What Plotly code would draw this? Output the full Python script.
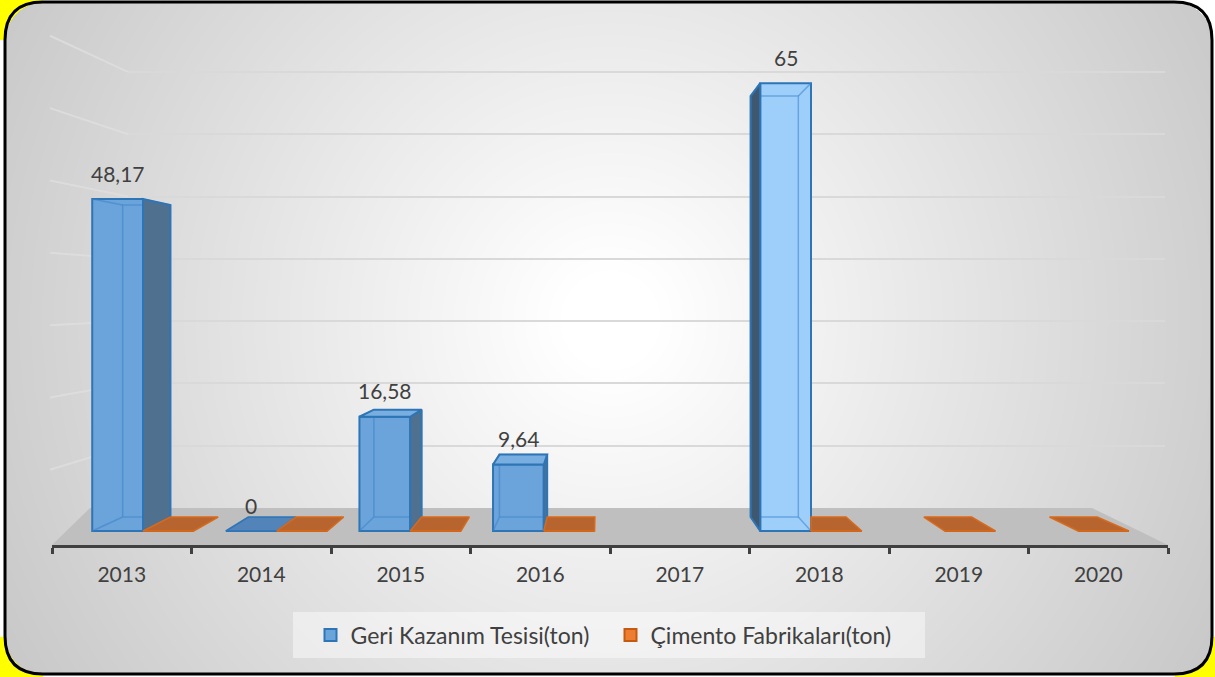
import base64, struct, zlib
import numpy as np
import plotly.graph_objects as go

# ---------------- data ----------------
years = ["2013", "2014", "2015", "2016", "2017", "2018", "2019", "2020"]
geri_kazanim = [48.17, 0, 16.58, 9.64, None, 65, None, None]
cimento = [0, 0, 0, 0, None, 0, 0, 0]
series_names = ["Geri Kazanım Tesisi(ton)", "Çimento Fabrikaları(ton)"]
grid_vals = [10, 20, 30, 40, 50, 60, 70]

# ---------------- styles / geometry ----------------
W, H = 1215, 677
FONT = "Lato"
TXT = "#404040"
BAR_W = 0.38           # bar width in category units
DEPTH = 0.94           # perspective scale of the bar back faces
VP = (3.42, 33.8)      # vanishing point in front-plane data units
BLUE_EDGE = "#2E75B6"
blue_front = ["#6BA3DB"] * 8
blue_front[5] = "#9DCFFA"
blue_side = ["#50708F"] * 8
blue_side[5] = "#3F5870"
blue_top = ["#79AEE0"] * 8
blue_flat = "#5283B9"
orange_flat = "#B8642F"
orange_edge = "#D86A1C"

# pixel layout of front plane
C0_PX, CAT_PX = 143.0, 133.6
BASE_PX, VAL_PX = 531.0, 6.89
# back wall
WALL_BASE_PX, WALL_VAL_PX = 508.0, 6.23
WALL_VP = (WALL_BASE_PX - 296.0) / WALL_VAL_PX


def px_x(p):
    return p / W


def px_y(p):
    return 1 - p / H


def proj(x, v, s=DEPTH):
    return (VP[0] + s * (x - VP[0]), VP[1] + s * (v - VP[1]))


def clip_left(poly, xc):
    """keep part of polygon with x >= xc"""
    out = []
    n = len(poly)
    for k in range(n):
        a, b = poly[k], poly[(k + 1) % n]
        ain, bin_ = a[0] >= xc, b[0] >= xc
        if ain:
            out.append(a)
        if ain != bin_:
            t = (xc - a[0]) / (b[0] - a[0])
            out.append((xc, a[1] + t * (b[1] - a[1])))
    return out


def png_data_uri(arr):
    h, w, _ = arr.shape
    a = arr.astype(np.int16)
    sub = a.copy()
    sub[:, 1:, :] = a[:, 1:, :] - a[:, :-1, :]
    sub = (sub % 256).astype(np.uint8).reshape(h, w * 3)
    raw = np.concatenate([np.ones((h, 1), np.uint8), sub], axis=1).tobytes()

    def chunk(t, data):
        c = struct.pack(">I", len(data)) + t + data
        return c + struct.pack(">I", zlib.crc32(t + data) & 0xFFFFFFFF)

    png = (b"\x89PNG\r\n\x1a\n"
           + chunk(b"IHDR", struct.pack(">IIBBBBB", w, h, 8, 2, 0, 0, 0))
           + chunk(b"IDAT", zlib.compress(raw, 9))
           + chunk(b"IEND", b""))
    return "data:image/png;base64," + base64.b64encode(png).decode()


# ---------------- background image ----------------
L, T, R, B, RAD = 5, 2, 1212, 674, 38
yy, xx = np.mgrid[0:H, 0:W].astype(float)
d = np.hypot(xx - 610, (yy - 320) * 1.0)
g = 255 - 0.085 * np.clip(d - 50, 0, None)
g = np.clip(g, 185, 255)
img = np.repeat(g[..., None], 3, axis=2)
cx = np.clip(xx, L + RAD, R - RAD)
cy = np.clip(yy, T + RAD, B - RAD)
inside = (np.hypot(xx - cx, yy - cy) <= RAD) & (xx >= L) & (xx <= R) & (yy >= T) & (yy <= B)
corner = (((xx < L + RAD) & (yy < T + RAD)) | ((xx < L + RAD) & (yy > B - RAD))
          | ((xx > R - RAD) & (yy > B - RAD)))
outside_col = np.where(corner[..., None], np.array([255, 255, 0]), np.array([255, 255, 255]))
img = np.where(inside[..., None], img, outside_col).astype(np.uint8)
bg_uri = png_data_uri(img)

fig = go.Figure()

# subplot order: xy = back wall grid, x2y2 = category axis, x3y3 = bars (front plane)
BX, BY = "x3", "y3"

# dummy traces to build the back wall grid and the category axis
fig.add_trace(go.Scatter(x=[0.5], y=[5], mode="markers", marker=dict(opacity=0),
                         hoverinfo="skip", showlegend=False, xaxis="x", yaxis="y"))
fig.add_trace(go.Scatter(x=years, y=[0.5] * len(years), mode="markers",
                         marker=dict(opacity=0), hoverinfo="skip", showlegend=False,
                         xaxis="x2", yaxis="y2"))

# ---------------- bars (front faces) ----------------
cats = list(range(len(years)))
fig.add_trace(go.Bar(
    x=cats, y=geri_kazanim, width=BAR_W, offset=-BAR_W, name=series_names[0],
    marker=dict(color=blue_front, line=dict(color=BLUE_EDGE, width=2)),
    hoverinfo="skip", xaxis=BX, yaxis=BY))
fig.add_trace(go.Bar(
    x=cats, y=cimento, width=BAR_W, offset=0, name=series_names[1],
    marker=dict(color="#ED7D31", line=dict(color="#C55A11", width=2)),
    hoverinfo="skip", xaxis=BX, yaxis=BY))


def poly_trace(poly, fill, line_col, lw=1.5):
    xs = [p[0] for p in poly] + [poly[0][0]]
    ys = [p[1] for p in poly] + [poly[0][1]]
    return go.Scatter(x=xs, y=ys, mode="lines", fill="toself", fillcolor=fill,
                      line=dict(color=line_col, width=lw), hoverinfo="skip",
                      showlegend=False, xaxis=BX, yaxis=BY)


# inner (back) edges seen through the translucent blue bars
for i, v in zip(cats, geri_kazanim):
    if v is None or v == 0:
        continue
    x0, x1 = i - BAR_W, i
    b = [proj(x0, 0), proj(x1, 0), proj(x1, v), proj(x0, v)]
    f = [(x0, 0), (x1, 0), (x1, v), (x0, v)]
    xs, ys = [], []
    for p in b + [b[0]]:
        xs.append(p[0]); ys.append(p[1])
    xs.append(None); ys.append(None)
    for fp, bp in zip(f, b):
        xs += [fp[0], bp[0], None]
        ys += [fp[1], bp[1], None]
    fig.add_trace(go.Scatter(x=xs, y=ys, mode="lines",
                             line=dict(color="rgba(60,130,200,0.55)", width=1.5),
                             hoverinfo="skip", showlegend=False, xaxis=BX, yaxis=BY))

# side and top faces of blue bars
for i, v in zip(cats, geri_kazanim):
    if v is None:
        continue
    x0, x1 = i - BAR_W, i
    if v == 0:
        poly = [(x0, 0), (x1, 0), proj(x1, 0), proj(x0, 0)]
        fig.add_trace(poly_trace(poly, blue_flat, BLUE_EDGE, 1.5))
        continue
    xe = x1 if (x0 + x1) / 2 < VP[0] else x0
    side = [(xe, 0), (xe, v), proj(xe, v), proj(xe, 0)]
    fig.add_trace(poly_trace(side, blue_side[i], BLUE_EDGE, 2))
    if v < VP[1]:
        top = [(x0, v), (x1, v), proj(x1, v), proj(x0, v)]
        fig.add_trace(poly_trace(top, blue_top[i], BLUE_EDGE, 2))

# flat orange (zero) bars on the floor
for i, v in zip(cats, cimento):
    if v is None:
        continue
    x0, x1 = i, i + BAR_W
    poly = [(x0, v), (x1, v), proj(x1, v), proj(x0, v)]
    gv = geri_kazanim[i]
    if gv is not None and gv > 0 and i > VP[0]:
        poly = clip_left(poly, i)
    fig.add_trace(poly_trace(poly, orange_flat, orange_edge, 1.5))


# ---------------- data labels ----------------
def fmt(v):
    if float(v).is_integer():
        return str(int(v))
    return f"{v:.2f}".replace(".", ",")


annotations = []
for i, v in zip(cats, geri_kazanim):
    if v is None:
        continue
    annotations.append(dict(x=i - BAR_W / 2, y=v, xref=BX, yref=BY, text=fmt(v),
                            showarrow=False, yshift=26,
                            font=dict(family=FONT, size=21, color=TXT)))

# ---------------- shapes ----------------
shapes = []
# floor
floor_pts = [(52, 545), (90, 508), (1092, 508), (1168, 545)]
path = "M " + " L ".join(f"{px_x(a):.5f},{px_y(b):.5f}" for a, b in floor_pts) + " Z"
shapes.append(dict(type="path", path=path, xref="paper", yref="paper",
                   fillcolor="#BFBFBF", line=dict(width=0), layer="below"))
# left wall grid lines
wall_top_px = 30
for gv in grid_vals:
    gl = gv + (gv - WALL_VP) * (78.0 / 484.0)
    shapes.append(dict(type="line", xref="paper", yref="y", x0=px_x(128), y0=gv,
                       x1=px_x(50), y1=gl, line=dict(color="rgba(222,222,222,0.8)", width=2),
                       layer="below"))
# legend box
shapes.append(dict(type="rect", xref="paper", yref="paper", x0=px_x(293), x1=px_x(925),
                   y0=px_y(658), y1=px_y(612), fillcolor="rgba(255,255,255,0.45)",
                   line=dict(width=0), layer="below"))


# rounded border
def P(a, b):
    return f"{px_x(a):.5f},{px_y(b):.5f}"


bpath = (f"M {P(L + RAD, T)} L {P(R - RAD, T)} Q {P(R, T)} {P(R, T + RAD)} "
         f"L {P(R, B - RAD)} Q {P(R, B)} {P(R - RAD, B)} L {P(L + RAD, B)} "
         f"Q {P(L, B)} {P(L, B - RAD)} L {P(L, T + RAD)} Q {P(L, T)} {P(L + RAD, T)} Z")
shapes.append(dict(type="path", path=bpath, xref="paper", yref="paper",
                   line=dict(color="#000000", width=3), fillcolor="rgba(0,0,0,0)",
                   layer="above"))

# ---------------- layout ----------------
fig.update_layout(
    width=W, height=H, autosize=False,
    margin=dict(l=0, r=0, t=0, b=0, pad=0),
    paper_bgcolor="#FFFFFF", plot_bgcolor="rgba(0,0,0,0)",
    font=dict(family=FONT, color=TXT),
    barmode="overlay",
    showlegend=True,
    legend=dict(orientation="h", x=0.5 + 3 / W, xanchor="center", y=px_y(635),
                yanchor="middle", bgcolor="rgba(0,0,0,0)",
                font=dict(family=FONT, size=23, color=TXT),
                traceorder="normal", entrywidth=255, entrywidthmode="pixels"),
    # back wall grid
    xaxis=dict(domain=[px_x(128), px_x(1165)], anchor="y", range=[0, 1], visible=False),
    yaxis=dict(domain=[px_y(WALL_BASE_PX), px_y(wall_top_px)], anchor="x",
               range=[0, (WALL_BASE_PX - wall_top_px) / WALL_VAL_PX],
               tickmode="array", tickvals=grid_vals, showticklabels=False, ticks="",
               showgrid=True, gridcolor="#D9D9D9", gridwidth=2, zeroline=False,
               showline=False),
    # category axis
    xaxis2=dict(domain=[px_x(52), px_x(1168)], anchor="y2", type="category",
                categoryorder="array", categoryarray=years, range=[-0.5, len(years) - 0.5],
                tickson="boundaries", ticks="outside", ticklen=6, tickwidth=3,
                tickcolor=TXT, showline=True, linewidth=3, linecolor=TXT,
                showgrid=False, zeroline=False, ticklabelstandoff=9,
                tickfont=dict(family=FONT, size=21, color=TXT)),
    yaxis2=dict(domain=[px_y(545), 1], anchor="x2", range=[0, 1], visible=False),
    # bars front plane
    xaxis3=dict(domain=[0, 1], anchor="y3", range=[-C0_PX / CAT_PX, (W - C0_PX) / CAT_PX],
                visible=False, fixedrange=True),
    yaxis3=dict(domain=[0, 1], anchor="x3", range=[-(H - BASE_PX) / VAL_PX, BASE_PX / VAL_PX],
                visible=False, fixedrange=True),
    annotations=annotations,
    shapes=shapes,
    images=[dict(source=bg_uri, xref="paper", yref="paper", x=0, y=1, sizex=1, sizey=1,
                 xanchor="left", yanchor="top", sizing="stretch", layer="below")],
)

fig.write_html("out.html", config={"displayModeBar": False},
               post_script="document.body.style.margin='0px';document.body.style.overflow='hidden';")
